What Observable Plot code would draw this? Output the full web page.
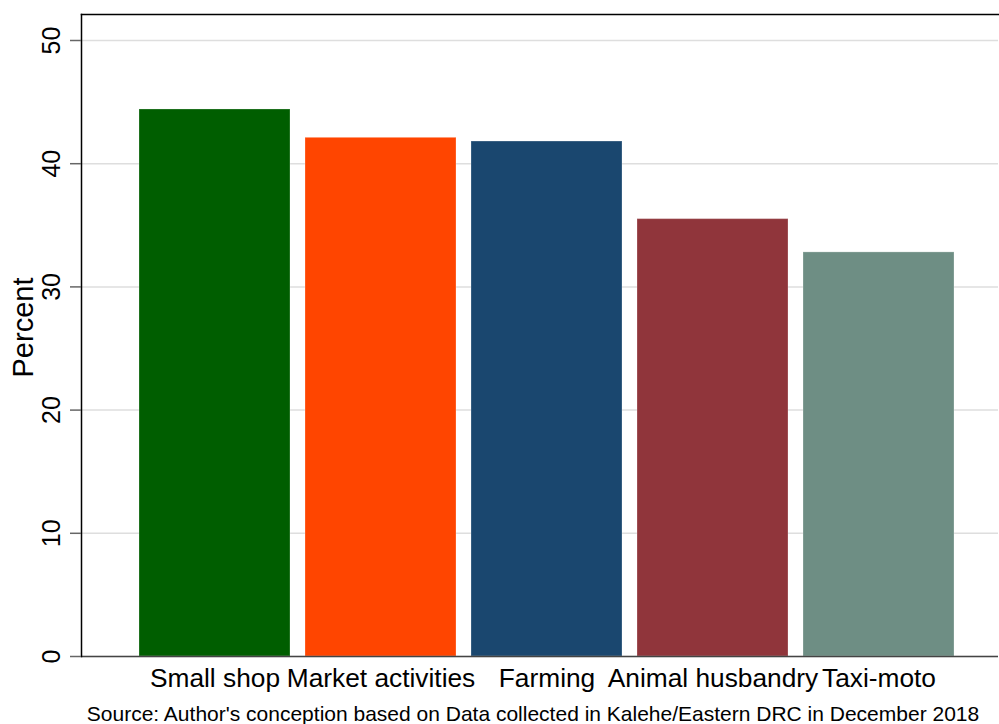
<!DOCTYPE html>
<html>
<head>
<meta charset="utf-8">
<script src="https://cdn.jsdelivr.net/npm/d3@7"></script>
<script src="https://cdn.jsdelivr.net/npm/@observablehq/plot@0.6"></script>
<style>
  html, body { margin: 0; padding: 0; background: #fff; }
  #chart svg { display: block; font-family: "Liberation Sans", Arial, Helvetica, sans-serif; }
</style>
</head>
<body>
<div id="chart"></div>
<script>
// Income-generating activities (percent of respondents)
const activities = ["Small shop", "Market activities", "Farming", "Animal husbandry", "Taxi-moto"];
const percents = [44.4, 42.1, 41.8, 35.5, 32.8];
const barColors = ["#005e00", "#ff4500", "#1a476f", "#90353b", "#6e8e84"];
const yTicks = [0, 10, 20, 30, 40, 50];
const yLabel = "Percent";
const sourceNote = "Source: Author's conception based on Data collected in Kalehe/Eastern DRC in December 2018";

const rows = activities.map((a, i) => ({activity: a, pct: percents[i]}));
const font = "Liberation Sans, Arial, Helvetica, sans-serif";

const chart = Plot.plot({
  width: 999,
  height: 724,
  marginTop: 14,
  marginLeft: 81,
  marginRight: 1,
  marginBottom: 68,
  style: {fontFamily: font, background: "#fff"},
  x: {domain: activities, range: [137.7, 954.2], paddingInner: 0.0917, paddingOuter: 0, label: null},
  y: {domain: [0, 50], range: [656, 40], label: null},
  color: {domain: activities, range: barColors},
  marks: [
    Plot.ruleY(yTicks, {stroke: "#dedede", strokeWidth: 1.5}),
    Plot.barY(rows, {x: "activity", y: "pct", fill: "activity", stroke: "#fff", strokeOpacity: 0.25, strokeWidth: 1}),
    Plot.ruleY([0], {stroke: "#444", strokeWidth: 1.6}),
    Plot.frame({anchor: "left", stroke: "#000", strokeWidth: 1.5}),
    Plot.frame({anchor: "top", stroke: "#000", strokeWidth: 1.5}),
    Plot.axisY(yTicks, {tickSize: 11, tickFormat: () => "", stroke: "#666", strokeWidth: 1.5}),
    Plot.axisY(yTicks, {tickSize: 0, tickPadding: 22, tickRotate: -90, fontSize: 25, fill: "#000"}),
    Plot.axisX({tickSize: 0, tickPadding: 12, fontSize: 26.3, fill: "#000"}),
    Plot.text([yLabel], {text: d => d, frameAnchor: "left", rotate: -90, lineAnchor: "bottom", textAnchor: "middle", dx: -49, dy: -8, fontSize: 29, fill: "#000"}),
    Plot.text([sourceNote], {text: d => d, frameAnchor: "bottom", lineAnchor: "bottom", textAnchor: "middle", dx: -7, dy: 64, fontSize: 21, fill: "#000"})
  ]
});

document.getElementById("chart").appendChild(chart);
</script>
</body>
</html>
